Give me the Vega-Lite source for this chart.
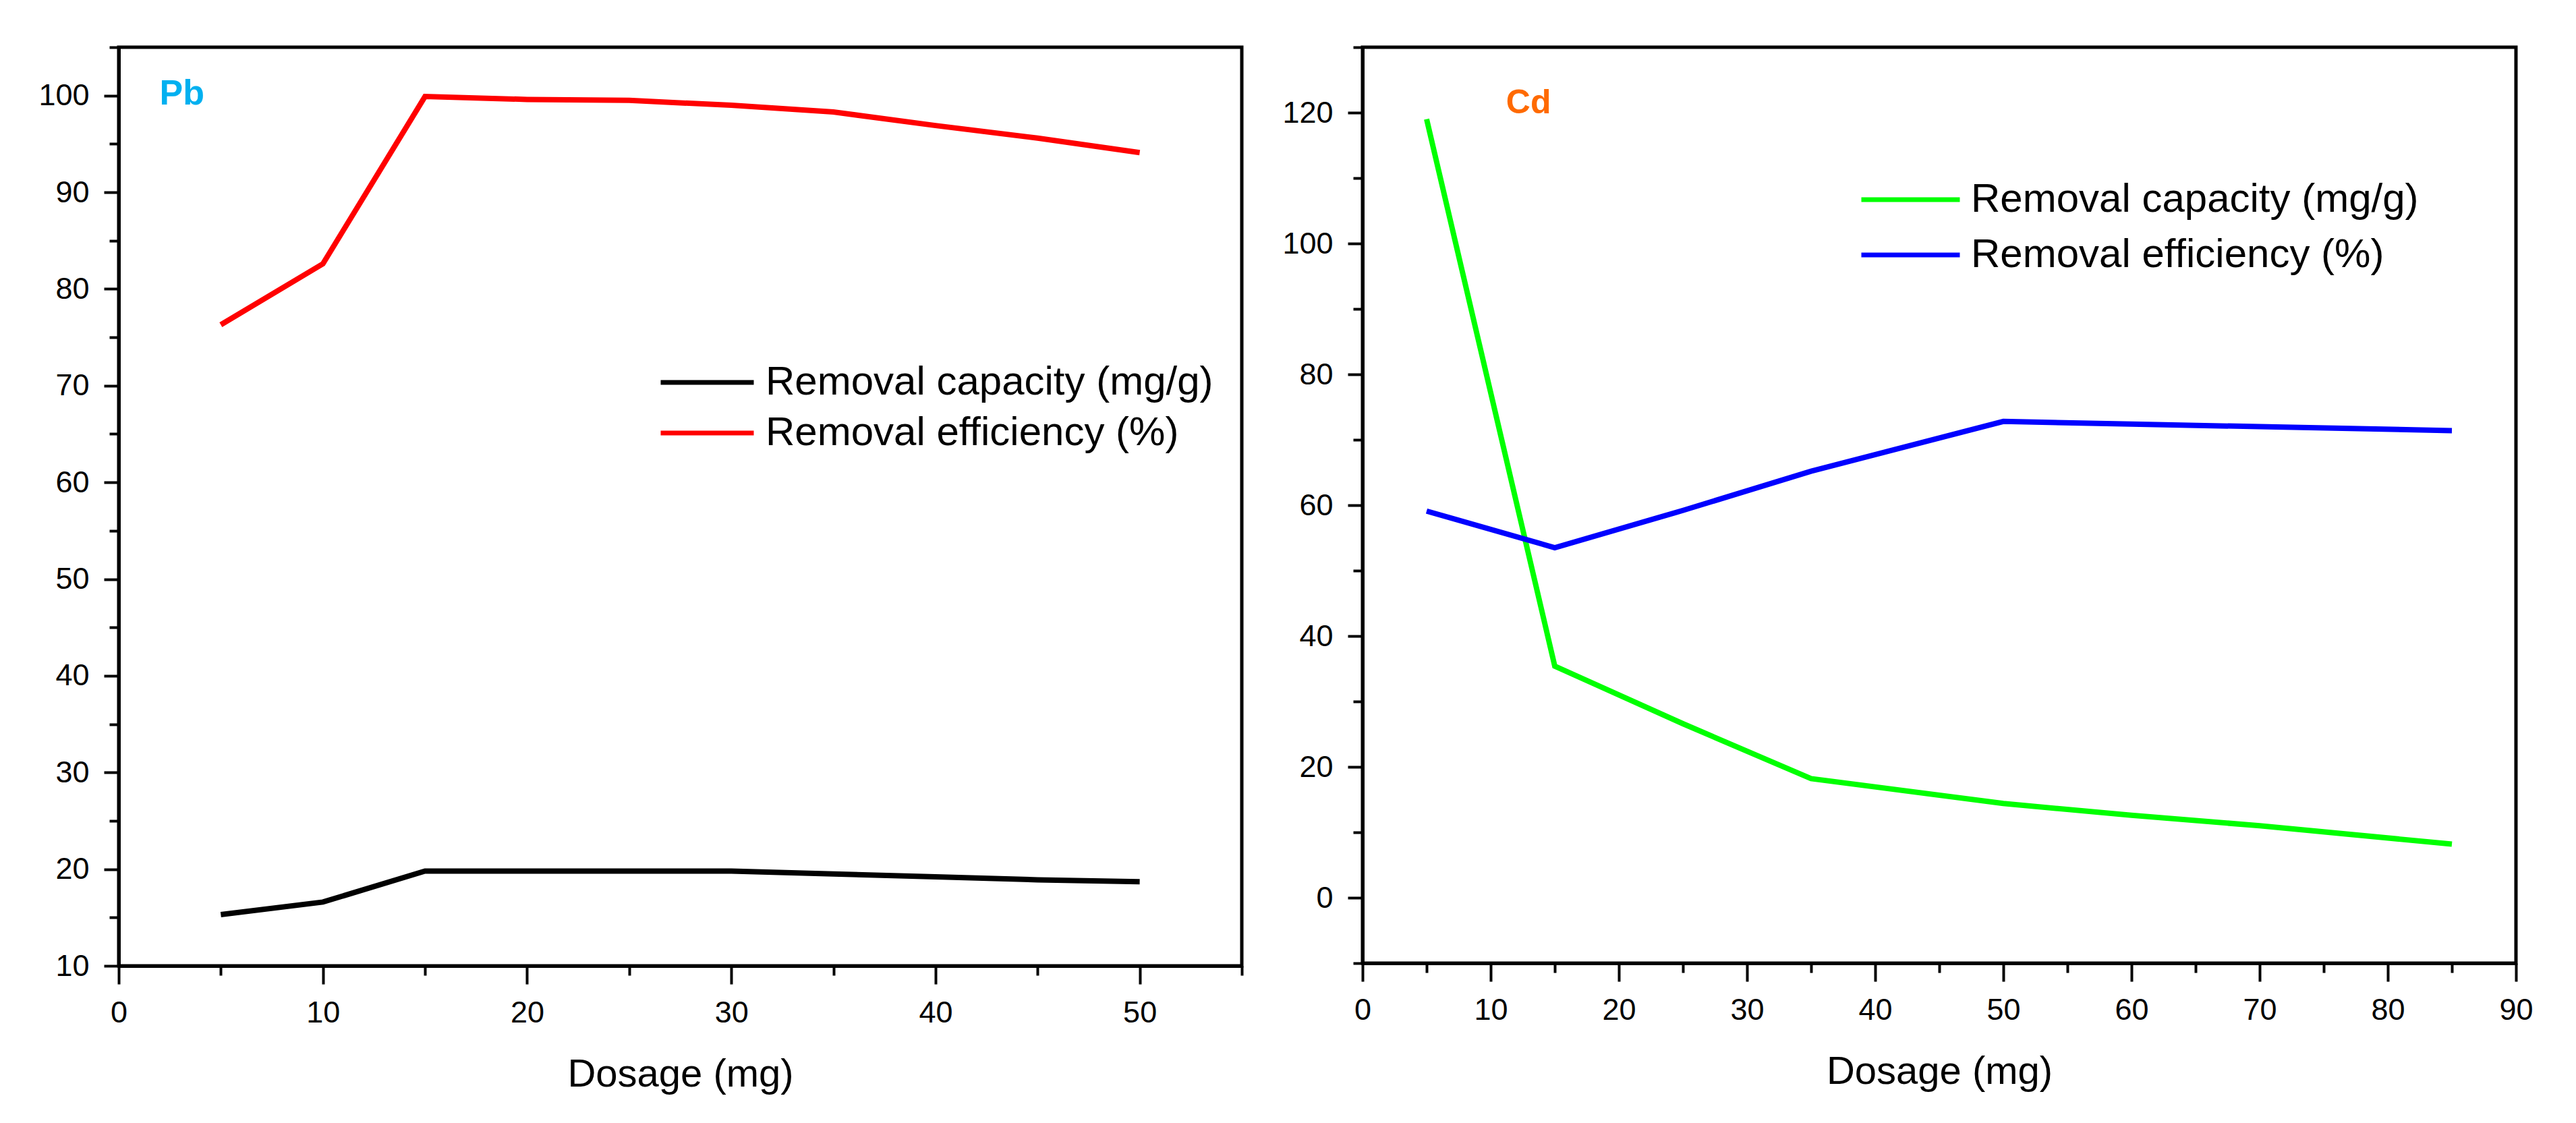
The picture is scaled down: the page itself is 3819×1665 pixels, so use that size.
{
  "$schema": "https://vega.github.io/schema/vega-lite/v6.json",
  "background": "white",
  "padding": {"left": 53, "top": 45, "right": 0, "bottom": 0},
  "spacing": 51,
  "datasets": {
    "pb": [
      {"dosage": 5, "series": "Removal capacity (mg/g)", "value": 15.3},
      {"dosage": 10, "series": "Removal capacity (mg/g)", "value": 16.6},
      {"dosage": 15, "series": "Removal capacity (mg/g)", "value": 19.8},
      {"dosage": 20, "series": "Removal capacity (mg/g)", "value": 19.8},
      {"dosage": 25, "series": "Removal capacity (mg/g)", "value": 19.8},
      {"dosage": 30, "series": "Removal capacity (mg/g)", "value": 19.8},
      {"dosage": 35, "series": "Removal capacity (mg/g)", "value": 19.5},
      {"dosage": 40, "series": "Removal capacity (mg/g)", "value": 19.2},
      {"dosage": 45, "series": "Removal capacity (mg/g)", "value": 18.9},
      {"dosage": 50, "series": "Removal capacity (mg/g)", "value": 18.7},
      {"dosage": 5, "series": "Removal efficiency (%)", "value": 76.3},
      {"dosage": 10, "series": "Removal efficiency (%)", "value": 82.6},
      {"dosage": 15, "series": "Removal efficiency (%)", "value": 99.9},
      {"dosage": 20, "series": "Removal efficiency (%)", "value": 99.6},
      {"dosage": 25, "series": "Removal efficiency (%)", "value": 99.5},
      {"dosage": 30, "series": "Removal efficiency (%)", "value": 99.0},
      {"dosage": 35, "series": "Removal efficiency (%)", "value": 98.3},
      {"dosage": 40, "series": "Removal efficiency (%)", "value": 96.9},
      {"dosage": 45, "series": "Removal efficiency (%)", "value": 95.6},
      {"dosage": 50, "series": "Removal efficiency (%)", "value": 94.1}
    ],
    "cd": [
      {"dosage": 5, "series": "Removal capacity (mg/g)", "value": 119.0},
      {"dosage": 15, "series": "Removal capacity (mg/g)", "value": 35.4},
      {"dosage": 25, "series": "Removal capacity (mg/g)", "value": 26.6},
      {"dosage": 35, "series": "Removal capacity (mg/g)", "value": 18.2},
      {"dosage": 50, "series": "Removal capacity (mg/g)", "value": 14.4},
      {"dosage": 60, "series": "Removal capacity (mg/g)", "value": 12.6},
      {"dosage": 70, "series": "Removal capacity (mg/g)", "value": 11.0},
      {"dosage": 85, "series": "Removal capacity (mg/g)", "value": 8.2},
      {"dosage": 5, "series": "Removal efficiency (%)", "value": 59.1},
      {"dosage": 15, "series": "Removal efficiency (%)", "value": 53.5},
      {"dosage": 25, "series": "Removal efficiency (%)", "value": 59.2},
      {"dosage": 35, "series": "Removal efficiency (%)", "value": 65.2},
      {"dosage": 50, "series": "Removal efficiency (%)", "value": 72.8},
      {"dosage": 60, "series": "Removal efficiency (%)", "value": 72.4},
      {"dosage": 70, "series": "Removal efficiency (%)", "value": 72.0},
      {"dosage": 85, "series": "Removal efficiency (%)", "value": 71.4}
    ]
  },
  "config": {
    "view": {"stroke": "black", "strokeWidth": 5},
    "font": "Liberation Sans",
    "axis": {
      "grid": false,
      "domainColor": "black",
      "domainWidth": 5,
      "tickColor": "black",
      "tickWidth": 4,
      "labelFont": "Liberation Sans",
      "labelFontSize": 45,
      "labelColor": "black",
      "labelOverlap": false,
      "labelFlush": false,
      "titleFont": "Liberation Sans",
      "titleFontSize": 58,
      "titleFontWeight": "normal",
      "titleColor": "black"
    },
    "axisY": {"minExtent": 120, "maxExtent": 120, "labelPadding": 22},
    "axisX": {"labelPadding": 20, "titlePadding": 40},
    "legend": {
      "orient": "none",
      "title": null,
      "padding": 0,
      "symbolType": "M-1,0H3",
      "symbolStrokeWidth": 7,
      "labelFont": "Liberation Sans",
      "labelFontSize": 60,
      "labelColor": "black",
      "labelLimit": 0
    }
  },
  "resolve": {"scale": {"color": "independent"}},
  "hconcat": [
    {
      "width": 1665,
      "height": 1362,
      "layer": [
        {
          "data": {"name": "pb"},
          "mark": {"type": "line", "strokeWidth": 8},
          "encoding": {
            "x": {
              "field": "dosage",
              "type": "quantitative",
              "scale": {"domain": [0, 55], "nice": false, "zero": false},
              "axis": {
                "title": "Dosage (mg)",
                "values": [0, 5, 10, 15, 20, 25, 30, 35, 40, 45, 50, 55],
                "labelExpr": "datum.value % 10 === 0 ? datum.label : ''",
                "tickSize": {"condition": {"test": "datum.value % 10 === 0", "value": 27}, "value": 14}
              }
            },
            "y": {
              "field": "value",
              "type": "quantitative",
              "scale": {"domain": [10, 105], "nice": false, "zero": false},
              "axis": {
                "title": null,
                "values": [10, 15, 20, 25, 30, 35, 40, 45, 50, 55, 60, 65, 70, 75, 80, 85, 90, 95, 100, 105],
                "labelExpr": "datum.value % 10 === 0 ? datum.label : ''",
                "tickSize": {"condition": {"test": "datum.value % 10 === 0", "value": 22}, "value": 14}
              }
            },
            "color": {
              "field": "series",
              "type": "nominal",
              "scale": {"domain": ["Removal capacity (mg/g)", "Removal efficiency (%)"], "range": ["black", "#ff0000"]},
              "legend": {"legendX": 800, "legendY": 459, "rowPadding": 7, "symbolSize": 4761, "labelOffset": 83}
            }
          }
        },
        {
          "data": {"values": [{"label": "Pb"}]},
          "mark": {"type": "text", "fontSize": 52, "fontWeight": "bold", "color": "#00b0f0", "align": "left", "baseline": "alphabetic"},
          "encoding": {
            "x": {"datum": 2.0, "type": "quantitative"},
            "y": {"datum": 99.1, "type": "quantitative"},
            "text": {"field": "label"}
          }
        }
      ]
    },
    {
      "width": 1710,
      "height": 1358,
      "layer": [
        {
          "data": {"name": "cd"},
          "mark": {"type": "line", "strokeWidth": 8},
          "encoding": {
            "x": {
              "field": "dosage",
              "type": "quantitative",
              "scale": {"domain": [0, 90], "nice": false, "zero": false},
              "axis": {
                "title": "Dosage (mg)",
                "values": [0, 5, 10, 15, 20, 25, 30, 35, 40, 45, 50, 55, 60, 65, 70, 75, 80, 85, 90],
                "labelExpr": "datum.value % 10 === 0 ? datum.label : ''",
                "tickSize": {"condition": {"test": "datum.value % 10 === 0", "value": 27}, "value": 14}
              }
            },
            "y": {
              "field": "value",
              "type": "quantitative",
              "scale": {"domain": [-10, 130], "nice": false, "zero": false},
              "axis": {
                "title": null,
                "values": [-10, 0, 10, 20, 30, 40, 50, 60, 70, 80, 90, 100, 110, 120, 130],
                "labelExpr": "datum.value % 20 === 0 ? datum.label : ''",
                "tickSize": {"condition": {"test": "datum.value % 20 === 0", "value": 22}, "value": 14}
              }
            },
            "color": {
              "field": "series",
              "type": "nominal",
              "scale": {"domain": ["Removal capacity (mg/g)", "Removal efficiency (%)"], "range": ["#00ff00", "#0000ff"]},
              "legend": {"legendX": 736, "legendY": 186, "rowPadding": 12, "symbolSize": 5329, "labelOffset": 86}
            }
          }
        },
        {
          "data": {"values": [{"label": "Cd"}]},
          "mark": {"type": "text", "fontSize": 50, "fontWeight": "bold", "color": "#ff6a00", "align": "left", "baseline": "alphabetic"},
          "encoding": {
            "x": {"datum": 11.2, "type": "quantitative"},
            "y": {"datum": 119.9, "type": "quantitative"},
            "text": {"field": "label"}
          }
        }
      ]
    }
  ]
}
